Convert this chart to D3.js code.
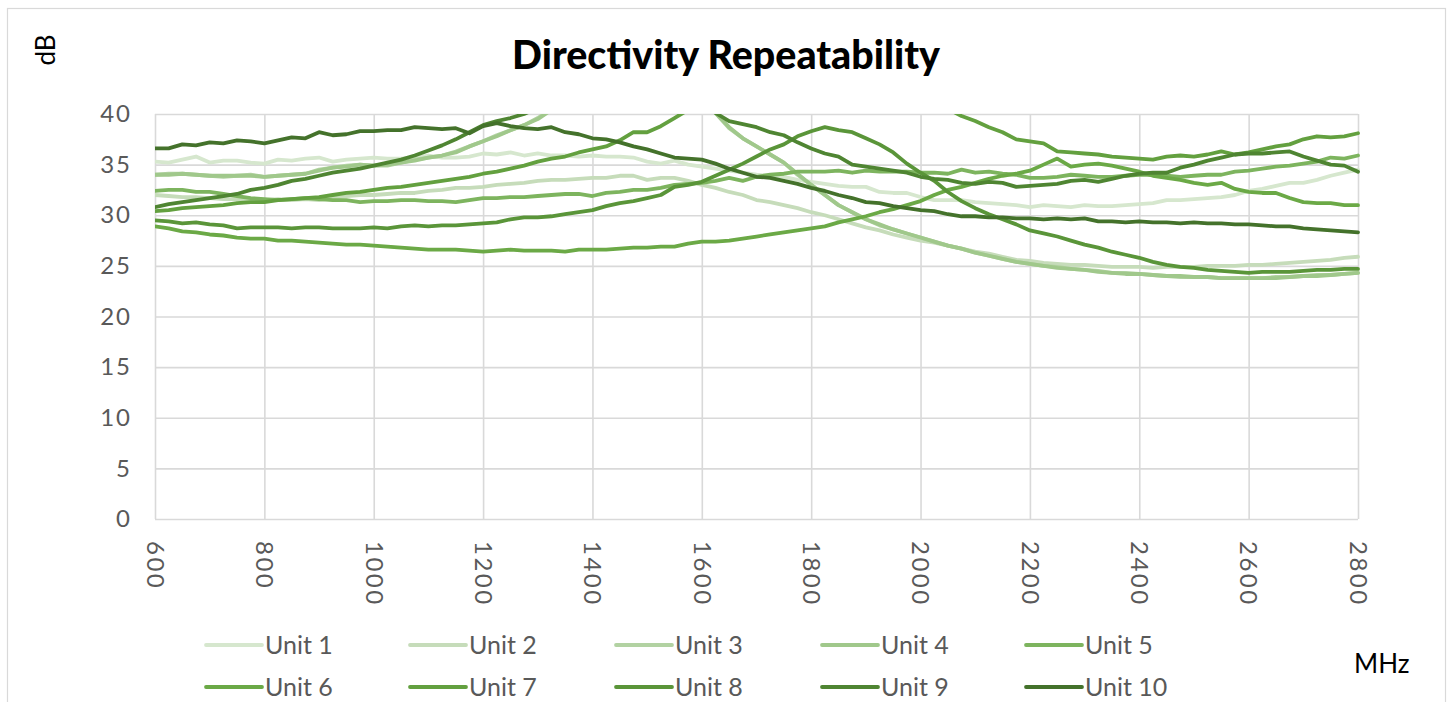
<!DOCTYPE html>
<html><head><meta charset="utf-8">
<script src="https://cdn.jsdelivr.net/npm/d3@7"></script>
<style>body{margin:0;background:#fff;} svg{display:block;}</style>
</head><body><svg id="c" width="1451" height="702"></svg>
<script>
// Categories: frequency in MHz (25 MHz steps)
const freqs = d3.range(600, 2801, 25);

const unit1 = [35.3,35.2,35.5,35.8,35.2,35.4,35.4,35.2,35.1,35.5,
 35.4,35.6,35.7,35.3,35.5,35.6,35.7,35.6,35.6,35.7,
 35.9,35.7,35.7,35.8,36.1,36.0,36.2,35.9,36.1,35.9,
 35.9,35.8,35.9,35.8,35.8,35.7,35.3,35.1,35.4,35.0,
 34.8,34.6,34.4,34.2,34.0,33.9,33.8,33.5,33.3,33.1,
 32.9,32.8,32.8,32.3,32.2,32.2,31.8,31.5,31.5,31.5,
 31.3,31.2,31.1,31.0,30.8,31.0,30.9,30.8,31.0,30.9,
 30.9,31.0,31.1,31.2,31.5,31.5,31.6,31.7,31.8,32.0,
 32.4,32.6,32.9,33.2,33.2,33.5,33.9,34.2,34.5];
const unit2 = [32.0,31.9,31.8,31.8,31.7,31.6,31.6,31.5,31.5,31.6,
 31.5,31.6,31.5,31.7,31.9,32.0,32.0,32.1,32.2,32.2,
 32.4,32.5,32.7,32.7,32.8,33.0,33.1,33.2,33.4,33.5,
 33.5,33.6,33.7,33.7,33.9,33.9,33.5,33.7,33.7,33.4,
 33.0,32.7,32.3,32.0,31.5,31.3,31.0,30.7,30.3,30.0,
 29.6,29.2,28.8,28.5,28.1,27.8,27.5,27.3,27.0,26.7,
 26.4,26.2,25.9,25.6,25.5,25.3,25.2,25.1,25.1,25.0,
 24.9,24.9,24.9,24.8,24.9,24.9,24.9,25.0,25.0,25.0,
 25.1,25.1,25.2,25.3,25.4,25.5,25.6,25.8,25.9];
const unit3 = [34.0,34.1,34.1,34.0,33.9,33.8,33.9,34.0,33.8,33.9,
 34.0,34.1,34.5,34.7,34.9,35.0,34.9,34.9,35.2,35.5,
 35.7,35.9,36.3,36.8,37.3,37.9,38.4,38.9,39.6,40.5,
 41.3,42.0,42.6,43.1,43.4,43.6,43.6,43.4,42.9,42.2,
 41.2,40.1,38.6,37.6,36.8,36.0,35.2,34.0,33.0,32.0,
 31.0,30.3,29.6,29.0,28.6,28.2,27.8,27.4,27.0,26.7,
 26.3,26.0,25.7,25.4,25.2,25.0,24.9,24.7,24.6,24.5,
 24.3,24.3,24.2,24.1,24.0,23.9,23.9,23.9,23.8,23.8,
 23.8,23.8,23.9,23.9,24.0,24.1,24.1,24.2,24.3];
const unit4 = [34.0,34.0,34.1,34.0,33.9,33.9,33.9,33.9,33.8,33.9,
 34.0,34.1,34.4,34.7,34.8,35.0,34.9,35.0,35.2,35.4,
 35.7,35.9,36.2,36.8,37.3,37.8,38.4,38.9,39.5,40.4,
 41.2,41.9,42.5,43.0,43.3,43.5,43.5,43.3,42.9,42.2,
 41.2,40.1,38.7,37.6,36.8,36.0,35.2,34.1,33.0,32.0,
 31.0,30.3,29.6,29.1,28.6,28.2,27.8,27.4,27.0,26.7,
 26.3,26.0,25.7,25.4,25.2,25.0,24.8,24.7,24.6,24.4,
 24.3,24.2,24.2,24.1,24.0,24.0,23.9,23.9,23.8,23.8,
 23.8,23.8,23.8,23.9,24.0,24.0,24.1,24.2,24.3];
const unit5 = [32.4,32.5,32.5,32.3,32.3,32.1,31.9,31.7,31.6,31.5,
 31.6,31.7,31.6,31.5,31.5,31.3,31.4,31.4,31.5,31.5,
 31.4,31.4,31.3,31.5,31.7,31.7,31.8,31.8,31.9,32.0,
 32.1,32.1,31.9,32.2,32.3,32.5,32.5,32.7,33.0,33.1,
 33.2,33.4,33.7,33.4,33.8,34.0,34.1,34.3,34.3,34.3,
 34.4,34.2,34.4,34.3,34.3,34.3,34.2,34.2,34.1,34.5,
 34.2,34.3,34.1,34.0,33.7,33.7,33.8,34.0,33.9,33.8,
 33.8,33.9,34.0,34.0,33.9,33.8,33.9,34.0,34.0,34.3,
 34.4,34.6,34.8,34.9,35.1,35.3,35.7,35.6,35.9];
const unit6 = [28.9,28.7,28.4,28.3,28.1,28.0,27.8,27.7,27.7,27.5,
 27.5,27.4,27.3,27.2,27.1,27.1,27.0,26.9,26.8,26.7,
 26.6,26.6,26.6,26.5,26.4,26.5,26.6,26.5,26.5,26.5,
 26.4,26.6,26.6,26.6,26.7,26.8,26.8,26.9,26.9,27.2,
 27.4,27.4,27.5,27.7,27.9,28.1,28.3,28.5,28.7,28.9,
 29.3,29.6,29.9,30.3,30.6,31.0,31.4,32.0,32.5,32.8,
 33.2,33.6,33.9,34.1,34.4,35.0,35.6,34.8,35.0,35.1,
 34.9,34.6,34.3,33.9,33.7,33.5,33.2,33.0,33.2,32.6,
 32.3,32.2,32.2,31.7,31.3,31.2,31.2,31.0,31.0];
const unit7 = [30.4,30.5,30.7,30.8,30.9,31.0,31.2,31.3,31.3,31.5,
 31.6,31.7,31.8,32.0,32.2,32.3,32.5,32.7,32.8,33.0,
 33.2,33.4,33.6,33.8,34.1,34.3,34.6,34.9,35.3,35.6,
 35.8,36.2,36.5,36.8,37.4,38.2,38.2,38.8,39.6,40.4,
 41.3,42.1,42.8,43.4,43.9,44.3,44.6,44.8,44.9,44.9,
 44.8,44.5,44.2,43.8,43.3,42.6,41.9,41.2,40.5,39.8,
 39.3,38.7,38.2,37.5,37.3,37.1,36.3,36.2,36.1,36.0,
 35.8,35.7,35.6,35.5,35.8,35.9,35.8,36.0,36.3,36.0,
 36.2,36.5,36.8,37.0,37.5,37.8,37.7,37.8,38.1];
const unit8 = [29.5,29.4,29.2,29.3,29.1,29.0,28.7,28.8,28.8,28.8,
 28.7,28.8,28.8,28.7,28.7,28.7,28.8,28.7,28.9,29.0,
 28.9,29.0,29.0,29.1,29.2,29.3,29.6,29.8,29.8,29.9,
 30.1,30.3,30.5,30.9,31.2,31.4,31.7,32.0,32.8,33.0,
 33.3,33.9,34.5,35.1,35.8,36.5,37.0,37.8,38.3,38.7,
 38.4,38.2,37.6,37.0,36.2,35.1,34.2,33.4,32.3,31.4,
 30.7,30.1,29.6,29.1,28.5,28.2,27.9,27.5,27.1,26.8,
 26.4,26.1,25.8,25.4,25.1,24.9,24.8,24.6,24.5,24.4,
 24.3,24.4,24.4,24.4,24.5,24.6,24.6,24.7,24.7];
const unit9 = [30.8,31.1,31.3,31.5,31.7,31.9,32.1,32.5,32.7,33.0,
 33.4,33.6,33.9,34.2,34.4,34.6,34.9,35.2,35.5,35.9,
 36.4,36.9,37.5,38.2,38.9,39.3,39.6,40.0,40.6,41.2,
 41.8,42.3,42.7,43.0,43.2,43.3,43.2,42.9,42.4,41.8,
 41.0,40.1,39.3,39.0,38.7,38.2,37.9,37.2,36.6,36.1,
 35.8,35.0,34.8,34.6,34.4,34.2,33.8,33.6,33.5,33.2,
 33.1,33.3,33.2,32.8,32.9,33.0,33.1,33.4,33.5,33.3,
 33.6,33.9,34.1,34.2,34.2,34.7,35.0,35.4,35.7,36.0,
 36.1,36.1,36.2,36.3,35.8,35.4,35.0,34.9,34.3];
const unit10 = [36.6,36.6,37.0,36.9,37.2,37.1,37.4,37.3,37.1,37.4,
 37.7,37.6,38.2,37.9,38.0,38.3,38.3,38.4,38.4,38.7,
 38.6,38.5,38.6,38.1,38.8,39.1,38.8,38.6,38.5,38.7,
 38.2,38.0,37.6,37.5,37.2,36.8,36.5,36.1,35.7,35.6,
 35.5,35.1,34.6,34.2,33.8,33.7,33.4,33.1,32.7,32.4,
 32.0,31.7,31.3,31.2,30.9,30.7,30.5,30.4,30.1,29.9,
 29.9,29.8,29.8,29.7,29.7,29.6,29.7,29.6,29.7,29.4,
 29.4,29.3,29.4,29.3,29.3,29.2,29.3,29.2,29.2,29.1,
 29.1,29.0,28.9,28.9,28.7,28.6,28.5,28.4,28.3];

const seriesNames = ["Unit 1","Unit 2","Unit 3","Unit 4","Unit 5","Unit 6","Unit 7","Unit 8","Unit 9","Unit 10"];
const seriesValues = [unit1,unit2,unit3,unit4,unit5,unit6,unit7,unit8,unit9,unit10];
const seriesColors = ["#d6e7ce","#c6dcba","#b2d2a2","#a0c88b","#7db45e","#6ba946","#63a03f","#5a9539","#4f8532","#44722b"];
const xTicks = [600,800,1000,1200,1400,1600,1800,2000,2200,2400,2600,2800];
const yTicks = [0,5,10,15,20,25,30,35,40];
const titleText = "Directivity Repeatability";
const yTitle = "dB";
const xTitle = "MHz";

const svg = d3.select("#c");
const FONT = "Lato, 'Open Sans', 'DejaVu Sans', sans-serif";
const L = 155, R = 1358, T = 114, B = 519;
const x = d3.scaleLinear().domain([600, 2800]).range([L, R]);
const y = d3.scaleLinear().domain([0, 40]).range([B, T]);

// outer chart border
svg.append("rect").attr("x", 7.5).attr("y", 8.5).attr("width", 1438).attr("height", 730)
  .attr("fill", "#fff").attr("stroke", "#d9d9d9").attr("stroke-width", 1.2);

// Y axis with gridlines
const gy = svg.append("g").attr("transform", `translate(${L},0)`)
  .call(d3.axisLeft(y).tickValues(yTicks).tickSize(-(R - L)).tickPadding(23).tickFormat(d3.format("d")));
gy.select(".domain").remove();
gy.selectAll(".tick line").attr("stroke", "#d9d9d9").attr("stroke-width", 1.6);
gy.selectAll(".tick text").attr("font-family", FONT).attr("font-size", 24).attr("fill", "#595959")
  .attr("letter-spacing", 2);

// X axis with gridlines
const gx = svg.append("g").attr("transform", `translate(0,${B})`)
  .call(d3.axisBottom(x).tickValues(xTicks).tickSize(-(B - T)).tickFormat(d3.format("d")));
gx.select(".domain").remove();
gx.selectAll(".tick line").attr("stroke", "#d9d9d9").attr("stroke-width", 1.6);
gx.selectAll(".tick text")
  .attr("font-family", FONT).attr("font-size", 24).attr("fill", "#595959")
  .attr("transform", "rotate(90)").attr("text-anchor", "start")
  .attr("x", 22).attr("y", 0).attr("dy", "0.36em").attr("letter-spacing", 2.5);

// clip
svg.append("clipPath").attr("id", "plotclip").append("rect")
  .attr("x", L).attr("y", T).attr("width", R - L + 3).attr("height", B - T);

const line = d3.line().x((d, i) => x(freqs[i])).y(d => y(d));
const gl = svg.append("g").attr("clip-path", "url(#plotclip)");
seriesValues.forEach((vals, k) => {
  gl.append("path").datum(vals).attr("d", line)
    .attr("fill", "none").attr("stroke", seriesColors[k]).attr("stroke-width", 3.8)
    .attr("stroke-linejoin", "round").attr("stroke-linecap", "round");
});

// Title
const tt = svg.append("text").text(titleText).attr("x", 726).attr("y", 69)
  .attr("text-anchor", "middle").attr("font-family", FONT).attr("font-weight", 900)
  .attr("font-size", 30).attr("fill", "#000");
const tw = tt.node().getComputedTextLength();
tt.attr("font-size", 30 * 428 / tw);

// axis titles
svg.append("text").text(yTitle).attr("transform", "translate(55,50) rotate(-90)")
  .attr("text-anchor", "middle").attr("font-family", FONT).attr("font-size", 26).attr("fill", "#000");
svg.append("text").text(xTitle).attr("x", 1354).attr("y", 673)
  .attr("font-family", FONT).attr("font-size", 26).attr("fill", "#000");

// Legend
const legCols = [206, 410, 616, 822, 1026];
const legRows = [645, 687];
seriesNames.forEach((name, k) => {
  const lx = legCols[k % 5], ly = legRows[Math.floor(k / 5)];
  const g = svg.append("g");
  g.append("line").attr("x1", lx).attr("x2", lx + 56).attr("y1", ly).attr("y2", ly)
    .attr("stroke", seriesColors[k]).attr("stroke-width", 3.8).attr("stroke-linecap", "round");
  g.append("text").text(name).attr("x", lx + 59).attr("y", ly).attr("dy", "0.35em")
    .attr("font-family", FONT).attr("font-size", 25).attr("fill", "#595959");
});
</script></body></html>
